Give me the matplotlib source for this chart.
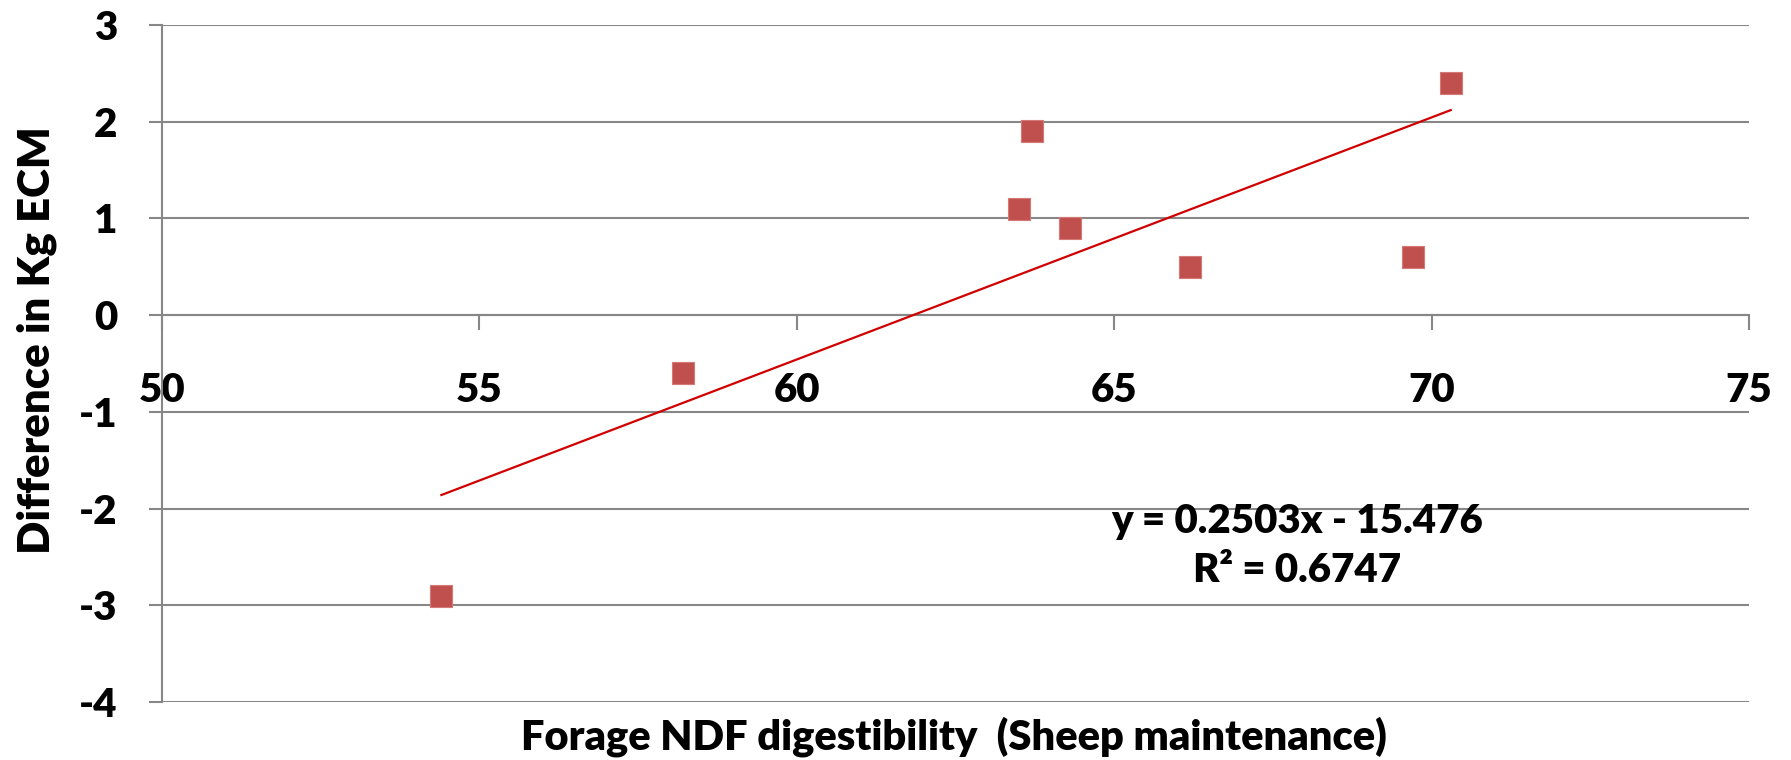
import numpy as np
import matplotlib.pyplot as plt

# forage NDF digestibility vs. difference in ECM
ndf_digestibility = [54.4, 58.2, 63.5, 63.7, 64.3, 66.2, 69.7, 70.3]
ecm_difference = [-2.9, -0.6, 1.1, 1.9, 0.9, 0.5, 0.6, 2.4]

# linear trendline
slope, intercept = 0.2503, -15.476
r_squared = 0.6747

x_ticks = [50, 55, 60, 65, 70, 75]
y_ticks = [-4, -3, -2, -1, 0, 1, 2, 3]

plt.rcParams['font.family'] = ['Lato', 'DejaVu Sans']
plt.rcParams['font.weight'] = 'heavy'
plt.rcParams['axes.unicode_minus'] = False

grid_color = '#878787'

fig = plt.figure(figsize=(17.91, 7.60), dpi=100)
ax = fig.add_axes([0.0905, 0.0763, 0.8861, 0.8908])

ax.scatter(ndf_digestibility, ecm_difference, marker='s', s=16.5**2,
           color='#C0504D', edgecolors='#D47976', linewidths=0.8, zorder=3)

fit_x = np.array([min(ndf_digestibility), max(ndf_digestibility)])
fit_y = slope * fit_x + intercept
ax.plot(fit_x, fit_y, color='#D00000', lw=1.6, zorder=4)

ax.set_xlim(50, 75)
ax.set_ylim(-4, 3)
ax.set_xticks(x_ticks)
ax.set_yticks(y_ticks)

ax.yaxis.grid(True, color=grid_color, lw=1.5)
ax.set_axisbelow(True)

for side in ['top', 'right']:
    ax.spines[side].set_visible(False)
ax.spines['bottom'].set_position(('data', 0))
ax.spines['bottom'].set_color(grid_color)
ax.spines['bottom'].set_linewidth(1.5)
ax.spines['left'].set_color(grid_color)
ax.spines['left'].set_linewidth(1.5)

ax.tick_params(axis='y', length=9.4, width=1.5, color=grid_color, pad=23, labelsize=29)
ax.tick_params(axis='x', length=11, width=1.5, color=grid_color, pad=30, labelsize=29)
for lbl in ax.get_xticklabels() + ax.get_yticklabels():
    lbl.set_fontweight('heavy')

fig.text(0.0207, 1 - 340 / 760, 'Difference in Kg ECM', rotation=90,
         ha='center', va='center', fontsize=31.5, fontweight='heavy')
fig.text(0.5327, 1 - 737 / 760, 'Forage NDF digestibility  (Sheep maintenance)',
         ha='center', va='center', fontsize=30, fontweight='heavy')

fig.text(0.7242, 1 - 546.5 / 760,
         f'y = {slope}x - {abs(intercept)}\nR\u00b2 = {r_squared}',
         ha='center', va='center', multialignment='center', linespacing=1.4,
         fontsize=29, fontweight='heavy')

fig.savefig('out.png', dpi=100)
